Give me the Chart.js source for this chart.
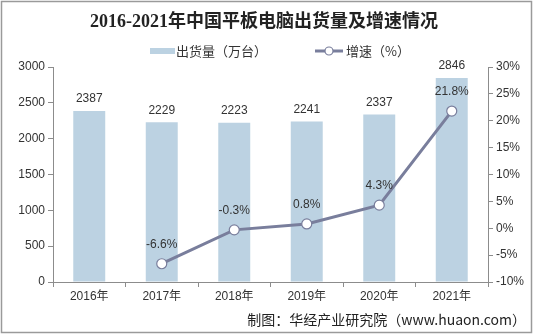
<!DOCTYPE html>
<html>
<head>
<meta charset="utf-8">
<script src="https://cdn.jsdelivr.net/npm/chart.js"></script>
<style>
  html, body { margin: 0; padding: 0; background: #fff; }
  #wrap { width: 533px; height: 334px; position: relative; }
</style>
</head>
<body>
<div id="wrap"><canvas id="myChart" width="533" height="334"></canvas></div>
<script>
// data
const years = ["2016年", "2017年", "2018年", "2019年", "2020年", "2021年"];
const shipments = [2387, 2229, 2223, 2241, 2337, 2846];
const growth = [null, -6.6, -0.3, 0.8, 4.3, 21.8];
const leftTicks = [0, 500, 1000, 1500, 2000, 2500, 3000];
const rightTicks = [-10, -5, 0, 5, 10, 15, 20, 25, 30];

const barColor = "#bcd2e2";
const lineColor = "#797e9c";
const axisColor = "#8c8c8c";
const textColor = "#333333";
const baseFont = "'Liberation Sans', Arial, 'Noto Sans CJK SC', sans-serif";
const cjkFont = "'Noto Sans CJK SC', sans-serif";

// title, legend, value labels, border, source note
const decor = {
  id: "decor",
  afterDraw(chart) {
    const c = chart.ctx;
    c.save();
    // frame
    c.strokeStyle = "#9a9a9a";
    c.lineWidth = 1.5;
    c.strokeRect(1.5, 1.5, 530, 331);

    // title
    c.fillStyle = "#222";
    c.font = "bold 18px 'Liberation Serif', 'DejaVu Serif', 'Noto Sans CJK SC', serif";
    c.textAlign = "center";
    c.textBaseline = "middle";
    c.fillText("2016-2021年中国平板电脑出货量及增速情况", 264, 22);

    // legend
    c.font = "13px " + cjkFont;
    c.textAlign = "left";
    c.fillStyle = barColor;
    c.fillRect(150, 48, 25, 6);
    c.fillStyle = textColor;
    c.fillText("出货量（万台）", 176, 51);
    c.strokeStyle = lineColor;
    c.lineWidth = 3;
    c.beginPath();
    c.moveTo(315, 51);
    c.lineTo(343, 51);
    c.stroke();
    c.beginPath();
    c.arc(329, 51, 4, 0, Math.PI * 2);
    c.fillStyle = "#fff";
    c.fill();
    c.lineWidth = 1.2;
    c.stroke();
    c.fillStyle = textColor;
    c.fillText("增速（%）", 346, 51);

    // value labels (dataset 0 = line, dataset 1 = bars)
    c.font = "12px " + baseFont;
    c.textAlign = "center";
    c.textBaseline = "bottom";
    chart.getDatasetMeta(1).data.forEach((bar, i) => {
      c.fillText(String(shipments[i]), bar.x, bar.y - 6);
    });
    c.textBaseline = "middle";
    chart.getDatasetMeta(0).data.forEach((pt, i) => {
      if (growth[i] === null) return;
      c.fillText(growth[i].toFixed(1) + "%", pt.x, pt.y - 19);
    });

    // source note
    c.font = "14px " + cjkFont;
    c.textAlign = "right";
    c.textBaseline = "middle";
    c.fillStyle = "#222";
    c.fillText("制图：华经产业研究院（www.huaon.com）", 526, 320);
    c.restore();
  },
};

const ctx = document.getElementById("myChart").getContext("2d");
const myChart = new Chart(ctx, {
  data: {
    labels: years,
    datasets: [
      {
        type: "line",
        label: "增速（%）",
        data: growth,
        yAxisID: "y1",
        borderColor: lineColor,
        borderWidth: 3,
        pointRadius: 5,
        pointBorderWidth: 1.2,
        pointBackgroundColor: "#ffffff",
        pointBorderColor: lineColor,
        spanGaps: false,
        order: 0,
      },
      {
        type: "bar",
        label: "出货量（万台）",
        data: shipments,
        yAxisID: "y",
        backgroundColor: barColor,
        categoryPercentage: 0.9,
        barPercentage: 0.49,
        order: 1,
      },
    ],
  },
  options: {
    responsive: false,
    animation: false,
    layout: { padding: { top: 67, bottom: 32, left: 0, right: 0 } },
    plugins: {
      legend: { display: false },
      title: { display: false },
      tooltip: { enabled: false },
    },
    scales: {
      x: {
        offset: true,
        grid: {
          offset: true,
          drawOnChartArea: false,
          tickLength: 5,
          color: axisColor,
        },
        border: { color: axisColor },
        ticks: { color: textColor, font: { size: 12, family: baseFont }, padding: 2 },
        afterFit(scale) { scale.height = 20; },
      },
      y: {
        position: "left",
        min: 0,
        max: 3000,
        afterBuildTicks(scale) { scale.ticks = leftTicks.map((v) => ({ value: v })); },
        grid: { drawOnChartArea: false, tickLength: 5, color: axisColor },
        border: { color: axisColor },
        ticks: {
          color: textColor,
          font: { size: 12, family: baseFont },
          padding: 3,
          callback: (v) => String(v),
        },
        afterFit(scale) { scale.width = 53; },
      },
      y1: {
        position: "right",
        min: -10,
        max: 30,
        afterBuildTicks(scale) { scale.ticks = rightTicks.map((v) => ({ value: v })); },
        grid: { drawOnChartArea: false, tickLength: 5, color: axisColor },
        border: { color: axisColor },
        ticks: {
          color: textColor,
          font: { size: 12, family: baseFont },
          padding: 3,
          callback: (v) => v + "%",
        },
        afterFit(scale) { scale.width = 45; },
      },
    },
  },
  plugins: [decor],
});
</script>
</body>
</html>
